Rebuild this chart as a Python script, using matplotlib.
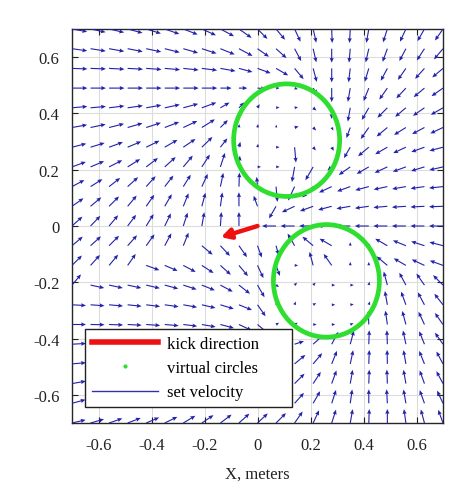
import numpy as np
import matplotlib
matplotlib.use("Agg")
import matplotlib.pyplot as plt
from matplotlib.patches import Circle
from matplotlib.lines import Line2D

# ---------------- data ----------------
GRID = [-0.70, -0.63, -0.56, -0.49, -0.42, -0.35, -0.28, -0.21, -0.14, -0.07, 0.00,
        0.07, 0.14, 0.21, 0.28, 0.35, 0.42, 0.49, 0.56, 0.63, 0.70]

# arrow direction (degrees), rows from y=0.70 (top) down to y=-0.70, columns x=-0.70..0.70
ANGLE = [
    [-10, -12, -13, -15, -17, -19, -21, -24, -28, -35, -45, -50, -65, -77, -88, -93, -100, -108, -115, -120, -125],
    [-8, -9, -10, -11, -12, -14, -16, -18, -22, -28, -35, -42, -62, -77, -90, -95, -103, -110, -118, -123, -130],
    [-2, -2, -3, -3, -4, -5, -6, -7, -10, -15, -20, -30, -50, -75, -90, -97, -107, -118, -125, -132, -140],
    [0, 0, 0, 0, 0, 0, 0, 0, 0, 0, -5, 0, -20, -55, -90, -100, -112, -125, -133, -140, -145],
    [5, 5, 7, 8, 10, 12, 15, 20, 30, 45, 60, 10, 10, -40, -90, -100, -120, -135, -140, -145, -150],
    [10, 12, 14, 16, 18, 21, 25, 32, 45, 85, 80, 80, 15, -45, -60, -110, -125, -140, -148, -152, -155],
    [14, 17, 20, 23, 26, 30, 34, 44, 52, 75, 80, 0, -85, -50, -60, -120, -140, -150, -155, -160, -165],
    [20, 23, 27, 32, 37, 42, 50, 57, 72, 85, 0, 0, -100, -120, -140, -145, -150, -155, -160, -163, -167],
    [28, 32, 38, 42, 48, 52, 58, 65, 78, 88, 95, -85, -115, -135, -155, -160, -165, -168, -170, -172, -174],
    [35, 40, 45, 50, 55, 60, 68, 75, 82, 90, 110, -120, -155, -160, -165, -170, -172, -175, -176, -177, -178],
    [42, 46, 50, 53, 58, 64, 72, 80, 86, 90, 0, 180, 180, 180, 180, 180, 180, 180, 180, 180, 180],
    [40, 42, 45, 48, 54, 62, 68, -40, -47, -55, -70, -75, 120, 140, 150, 90, 120, 150, 158, 162, 165],
    [45, 48, 50, 55, -20, -23, -28, -33, -42, -50, -65, -70, 0, 105, 125, 90, 90, 140, 150, 155, 160],
    [50, -12, -12, -12, -13, -15, -18, -22, -28, -38, -60, -30, 45, 45, 0, 0, 80, 105, 118, 125, 135],
    [-3, -4, -5, -6, -7, -8, -10, -13, -17, -22, -55, 80, 70, 30, 0, 10, 70, 100, 110, 118, 128],
    [0, -1, -2, -3, -4, -5, -7, -10, -15, -25, -40, 30, 30, 0, 0, 20, 92, 98, 105, 115, 125],
    [3, 4, 5, 6, 8, 10, 12, 15, 20, 25, 30, 20, 18, 42, 62, 75, 88, 92, 102, 112, 125],
    [5, 6, 8, 10, 12, 15, 18, 22, 27, 32, 36, 40, 40, 50, 68, 78, 88, 91, 100, 112, 118],
    [10, 12, 14, 16, 18, 20, 24, 28, 33, 38, 42, 45, 45, 57, 70, 80, 88, 92, 100, 110, 118],
    [15, 17, 19, 21, 23, 26, 30, 33, 37, 41, 45, 48, 48, 60, 72, 82, 90, 93, 100, 110, 115],
    [13, 16, 19, 21, 23, 26, 31, 34, 37, 42, 43, 45, 55, 65, 72, 80, 88, 90, 98, 105, 110],
]

# relative speed (arrow length), same layout as ANGLE
SPEED = [
    [1.1, 1.1, 1.1, 1.1, 1.1, 1.1, 1.1, 1.1, 1.1, 1.1, 1.0, 1.0, 1.0, 1.0, 1.0, 1.0, 1.0, 1.0, 1.0, 1.0, 1.0],
    [1.1, 1.1, 1.1, 1.1, 1.1, 1.1, 1.1, 1.1, 1.1, 1.1, 1.0, 1.0, 1.0, 1.0, 1.0, 1.0, 1.0, 1.0, 1.0, 1.0, 1.0],
    [1.1, 1.1, 1.1, 1.1, 1.1, 1.1, 1.1, 1.1, 1.1, 1.0, 1.0, 1.0, 1.0, 1.0, 1.0, 1.0, 1.0, 1.0, 1.0, 1.0, 1.0],
    [1.1, 1.1, 1.1, 1.1, 1.1, 1.1, 1.1, 1.1, 0.8, 0.6, 0.6, 0.25, 0.25, 0.55, 1.0, 1.0, 1.0, 1.0, 1.0, 1.0, 1.0],
    [1.1, 1.1, 1.1, 1.1, 1.1, 1.1, 1.1, 1.1, 0.75, 0.55, 0.3, 0.25, 0.25, 0.3, 0.8, 1.0, 1.0, 1.0, 1.0, 1.0, 1.0],
    [1.1, 1.1, 1.1, 1.1, 1.1, 1.1, 1.1, 1.1, 0.75, 0.25, 0.25, 0.2, 0.3, 0.3, 0.25, 0.8, 1.0, 1.0, 1.0, 1.0, 1.0],
    [1.05, 1.05, 1.05, 1.05, 1.05, 1.05, 1.05, 1.05, 0.8, 0.4, 0.25, 0.25, 1.1, 0.3, 0.3, 0.9, 1.0, 1.0, 1.0, 1.0, 1.0],
    [1.05, 1.05, 1.05, 1.05, 1.05, 1.05, 1.05, 1.05, 1.05, 0.8, 0.25, 0.25, 1.1, 1.1, 0.4, 1.0, 1.0, 1.0, 1.0, 1.0, 1.0],
    [1.0, 1.0, 1.0, 1.0, 1.0, 1.0, 1.0, 1.0, 1.0, 1.0, 0.7, 1.1, 1.1, 1.1, 1.0, 1.0, 1.0, 1.0, 1.0, 1.0, 1.0],
    [1.0, 1.0, 1.0, 1.0, 1.0, 1.0, 1.0, 1.0, 1.0, 1.0, 0.8, 1.0, 1.0, 1.0, 1.0, 1.0, 1.0, 1.0, 1.0, 1.0, 1.0],
    [1.0, 1.0, 1.0, 1.0, 1.0, 1.0, 1.0, 1.0, 1.0, 1.0, 0.0, 1.0, 1.0, 1.0, 1.0, 1.0, 1.0, 1.0, 1.0, 1.0, 1.0],
    [1.0, 1.0, 1.0, 1.0, 1.0, 1.0, 1.0, 1.0, 1.0, 1.0, 0.9, 0.7, 1.0, 1.0, 1.0, 0.25, 0.3, 1.0, 1.0, 1.0, 1.0],
    [1.0, 1.0, 1.0, 1.0, 1.0, 1.0, 1.0, 1.0, 1.0, 1.0, 1.0, 0.8, 0.25, 1.0, 1.0, 0.25, 0.25, 1.0, 1.0, 1.0, 1.0],
    [1.0, 1.0, 1.0, 1.0, 1.0, 1.0, 1.0, 1.0, 1.0, 1.0, 1.0, 0.25, 0.25, 0.25, 0.25, 0.25, 0.25, 1.0, 1.0, 1.0, 1.0],
    [1.0, 1.0, 1.0, 1.0, 1.0, 1.0, 1.0, 1.0, 1.0, 1.0, 1.0, 0.2, 0.25, 0.25, 0.25, 0.25, 0.25, 1.0, 1.0, 1.0, 1.0],
    [1.0, 1.0, 1.0, 1.0, 1.0, 1.0, 1.0, 1.0, 1.0, 1.0, 1.0, 0.25, 0.25, 0.25, 0.25, 0.25, 1.0, 1.0, 1.0, 1.0, 1.0],
    [1.0, 1.0, 1.0, 1.0, 1.0, 1.0, 1.0, 1.0, 1.0, 1.0, 1.0, 1.0, 0.7, 1.0, 1.0, 1.0, 1.0, 1.0, 1.0, 1.0, 1.0],
    [1.0, 1.0, 1.0, 1.0, 1.0, 1.0, 1.0, 1.0, 1.0, 1.0, 1.0, 1.0, 1.0, 1.0, 1.0, 1.0, 1.0, 1.0, 1.0, 1.0, 1.0],
    [1.0, 1.0, 1.0, 1.0, 1.0, 1.0, 1.0, 1.0, 1.0, 1.0, 1.0, 1.0, 1.0, 1.0, 1.0, 1.0, 1.0, 1.0, 1.0, 1.0, 1.0],
    [1.0, 1.0, 1.0, 1.0, 1.0, 1.0, 1.0, 1.0, 1.0, 1.0, 1.0, 1.0, 1.0, 1.0, 1.0, 1.0, 1.0, 1.0, 1.0, 1.0, 1.0],
    [1.0, 1.0, 1.0, 1.0, 1.0, 1.0, 1.0, 1.0, 1.0, 1.0, 1.0, 1.0, 1.0, 1.0, 1.0, 1.0, 1.0, 1.0, 1.0, 1.0, 1.0],
]

CIRCLE_CENTERS = [(0.11, 0.305), (0.26, -0.195)]
CIRCLE_RADIUS = [0.2, 0.2]

KICK_START = (0.0, 0.0)
KICK_VECTOR = (-0.138, -0.040)

TICKS = [-0.6, -0.4, -0.2, 0.0, 0.2, 0.4, 0.6]
TICK_LABELS = ["-0.6", "-0.4", "-0.2", "0", "0.2", "0.4", "0.6"]

LEGEND_LABELS = ["kick direction", "virtual circles", "set velocity"]

# ---------------- plot ----------------
plt.rcParams["font.family"] = ["Liberation Serif", "DejaVu Serif"]
plt.rcParams["axes.unicode_minus"] = False

ARROW_COLOR = "#2222aa"
GREEN = "#2fdf2f"
RED = "#ee1111"

fig = plt.figure(figsize=(4.71, 5.02), dpi=100)
ax = fig.add_axes([72 / 471, 1 - 424 / 502, 371 / 471, 394 / 502])

ys = GRID[::-1]
X, Y = np.meshgrid(GRID, ys)
ang = np.radians(np.array(ANGLE, dtype=float))
spd = np.array(SPEED, dtype=float)
U = spd * np.cos(ang)
V = spd * np.sin(ang)
mask = spd > 0

ax.quiver(X[mask], Y[mask], U[mask], V[mask], angles="uv", scale_units="inches",
          scale=1 / 0.14, color=ARROW_COLOR, width=0.003, headwidth=3.8,
          headlength=4.4, headaxislength=3.9, zorder=3)

for (cx, cy), r in zip(CIRCLE_CENTERS, CIRCLE_RADIUS):
    ax.add_patch(Circle((cx, cy), r, fill=False, edgecolor=GREEN, lw=3.4, zorder=4))

ax.annotate("", xy=(KICK_START[0] + KICK_VECTOR[0], KICK_START[1] + KICK_VECTOR[1]),
            xytext=KICK_START,
            arrowprops=dict(arrowstyle="-|>,head_length=0.55,head_width=0.3", color=RED,
                            lw=3.2, shrinkA=0, shrinkB=0), zorder=5)

ax.set_xlim(-0.7, 0.7)
ax.set_ylim(-0.7, 0.7)
ax.set_xticks(TICKS)
ax.set_xticklabels(TICK_LABELS)
ax.set_yticks(TICKS)
ax.set_yticklabels(TICK_LABELS)
ax.tick_params(direction="in", top=True, right=True, length=4, width=0.8,
               labelsize=12, colors="#222222")
ax.tick_params(axis="x", pad=10)
ax.tick_params(axis="y", pad=9)
ax.grid(True, color="#dcdcdc", lw=0.8)
ax.set_axisbelow(True)
for s in ax.spines.values():
    s.set_color("#262626")
    s.set_linewidth(1.0)
ax.set_xlabel("X, meters", fontsize=12, labelpad=9, color="#222222")

handles = [
    Line2D([], [], color=RED, lw=4),
    Line2D([], [], ls="none", marker="o", ms=3, mew=0, color=GREEN),
    Line2D([], [], color="#3333a8", lw=1),
]
leg = ax.legend(handles, LEGEND_LABELS, loc="lower left",
                bbox_to_anchor=(13 / 371, 16 / 394, 207 / 371, 87 / 394), mode="expand",
                borderaxespad=0, fancybox=False, framealpha=1, edgecolor="#222222",
                fontsize=12, handlelength=4.0, handletextpad=0.5, labelspacing=0.5,
                borderpad=0.4)
leg.get_frame().set_linewidth(1.0)
leg.set_zorder(10)

fig.savefig("out.png", dpi=100)
